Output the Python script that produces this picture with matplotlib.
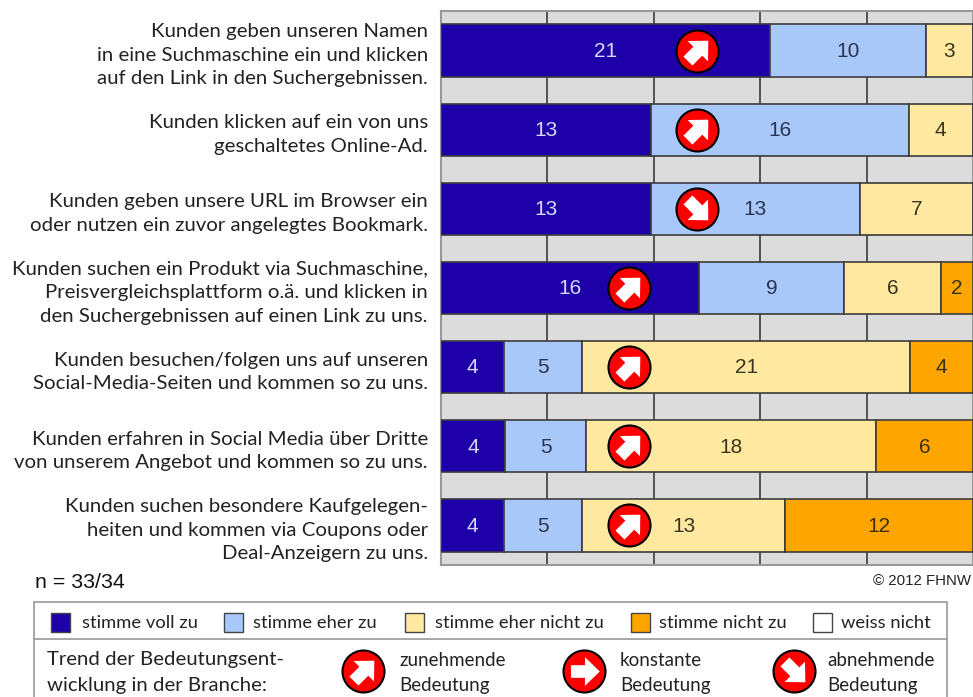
import matplotlib
matplotlib.use("Agg")
import numpy as np
import matplotlib.pyplot as plt
from matplotlib.path import Path
from matplotlib.patches import Rectangle
from matplotlib.transforms import Affine2D

W, H = 973, 697

# daten
labels = [
    "Kunden geben unseren Namen\nin eine Suchmaschine ein und klicken\nauf den Link in den Suchergebnissen.",
    "Kunden klicken auf ein von uns\ngeschaltetes Online-Ad.",
    "Kunden geben unsere URL im Browser ein\noder nutzen ein zuvor angelegtes Bookmark.",
    "Kunden suchen ein Produkt via Suchmaschine,\nPreisvergleichsplattform o.ä. und klicken in\nden Suchergebnissen auf einen Link zu uns.",
    "Kunden besuchen/folgen uns auf unseren\nSocial-Media-Seiten und kommen so zu uns.",
    "Kunden erfahren in Social Media über Dritte\nvon unserem Angebot und kommen so zu uns.",
    "Kunden suchen besondere Kaufgelegen-\nheiten und kommen via Coupons oder\nDeal-Anzeigern zu uns.",
]
voll = [21, 13, 13, 16, 4, 4, 4]
eher = [10, 16, 13, 9, 5, 5, 5]
eher_nicht = [3, 4, 7, 6, 21, 18, 13]
nicht = [0, 0, 0, 2, 4, 6, 12]
# trend: lage des symbols in % der balkenbreite, winkel des pfeils
trend_pos = [48.1, 48.1, 48.1, 35.3, 35.3, 35.3, 35.3]
trend_winkel = [45, 45, -45, 45, 45, 45, 45]
legend_names = ["stimme voll zu", "stimme eher zu", "stimme eher nicht zu", "stimme nicht zu", "weiss nicht"]

colors = ["#1e00a8", "#a8c8fa", "#ffe8a0", "#ffa500", "#ffffff"]
text_colors = ["#d8d8f8", "#2a3350", "#3a3520", "#3a3010"]
BODY = "Lato"
NUM = "Liberation Sans"


def pfeil(winkel):
    verts = np.array([(-0.62, -0.29), (0.02, -0.29), (0.02, -0.66), (0.70, 0),
                      (0.02, 0.66), (0.02, 0.29), (-0.62, 0.29), (-0.62, -0.29)])
    verts = Affine2D().rotate_deg(winkel).transform(verts)
    return Path(verts, closed=True), np.abs(verts).max()


def symbol(a, x, y, winkel):
    # roter kreis mit weissem pfeil, durchmesser 42 px
    d = 42 * 72 / 100
    a.plot([x], [y], "o", ms=d, mfc="#ff0000", mec="black", mew=1.5, zorder=5, clip_on=False)
    p, m = pfeil(winkel)
    # matplotlib normiert eigene marker auf die groesste koordinate
    a.plot([x], [y], ls="none", marker=p, ms=d * 1.04 * m, mfc="white", mec="none", zorder=6, clip_on=False)


fig = plt.figure(figsize=(W / 100, H / 100), dpi=100, facecolor="white")
ax = fig.add_axes([441 / W, 1 - 565 / H, (W - 441) / W, (565 - 11) / H])
ax.set_facecolor("#dcdcdc")

serien = np.array([voll, eher, eher_nicht, nicht], dtype=float)
summe = serien.sum(axis=0)
y = np.arange(len(labels))
links = np.zeros(len(labels))
for i in range(4):
    breite = serien[i] / summe * 100
    ax.barh(y, breite, left=links, height=0.66, color=colors[i], edgecolor="#3c3c3c", linewidth=1.2, zorder=3)
    for j in y:
        if serien[i][j] > 0:
            ax.text(links[j] + breite[j] / 2, j + 0.01, "%d" % serien[i][j], ha="center", va="center",
                    color=text_colors[i], fontsize=15, family=NUM, zorder=4)
    links = links + breite

for j in y:
    symbol(ax, trend_pos[j], j, trend_winkel[j])

ax.set_xlim(0, 100)
ax.set_ylim(len(labels) - 0.5, -0.5)
ax.set_xticks([20, 40, 60, 80])
ax.set_xticklabels([])
ax.tick_params(axis="x", length=0)
ax.xaxis.grid(True, color="#3c3c3c", lw=1.2, zorder=1)
ax.set_axisbelow(True)
ax.set_yticks(y)
ax.set_yticklabels(labels, fontsize=14.7, family=BODY, color="#222222", linespacing=1.47, ha="right", ma="right")
ax.tick_params(axis="y", length=0, pad=9.5)
for s in ax.spines.values():
    s.set_color("#999999")
    s.set_linewidth(1.5)

# ebene in pixeln fuer fusszeile und legende
ov = fig.add_axes([0, 0, 1, 1], zorder=10)
ov.set_xlim(0, W)
ov.set_ylim(H, 0)
ov.axis("off")
ov.patch.set_alpha(0)

ov.text(35, 583, "n = 33/34", fontsize=15.4, family=NUM, color="#111111", va="center")
ov.text(971, 581, "© 2012 FHNW", fontsize=10.8, family=NUM, color="#222222", ha="right", va="center")

ov.add_patch(Rectangle((33.5, 602), 913.5, 110, fc="white", ec="#a0a0a0", lw=1.3, clip_on=False))
ov.plot([33.5, 947], [639, 639], color="#a0a0a0", lw=1.3)

swatch_x = [51, 224, 405, 631, 813]
text_x = [82, 253, 435, 659, 841]
for i in range(5):
    ov.add_patch(Rectangle((swatch_x[i], 613), 19, 19, fc=colors[i], ec="#444444", lw=1))
    ov.text(text_x[i], 623, legend_names[i], fontsize=13.2, family=BODY, color="#222222", va="center")

ov.text(47, 660, "Trend der Bedeutungsent-", fontsize=14.7, family=BODY, color="#222222", va="center")
ov.text(47, 685, "wicklung in der Branche:", fontsize=14.7, family=BODY, color="#222222", va="center")

trend_namen = [("zunehmende", 45, 363, 399), ("konstante", 0, 584, 620), ("abnehmende", -45, 794, 827)]
for name, winkel, xs, xt in trend_namen:
    symbol(ov, xs, 671, winkel)
    ov.text(xt, 661, name, fontsize=13.5, family=BODY, color="#222222", va="center")
    ov.text(xt, 685, "Bedeutung", fontsize=13.5, family=BODY, color="#222222", va="center")

fig.savefig("out.png", dpi=100)
